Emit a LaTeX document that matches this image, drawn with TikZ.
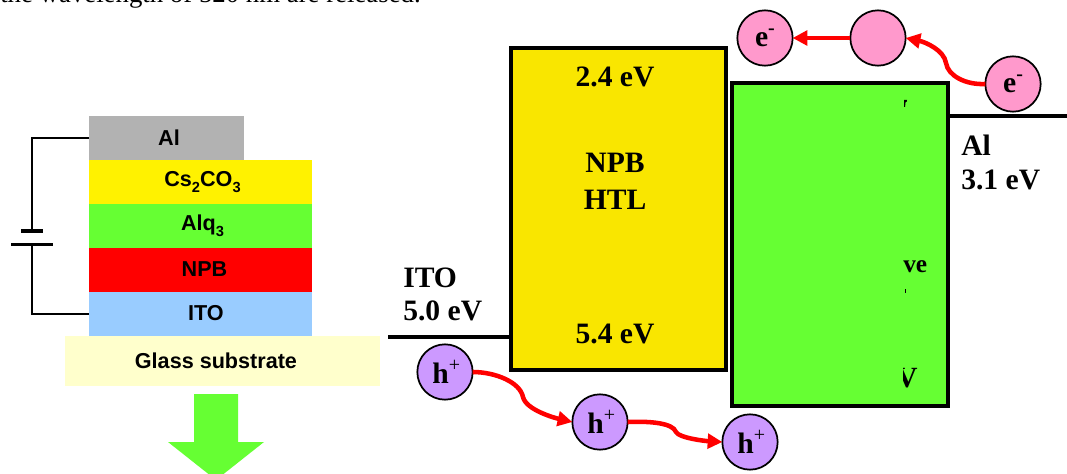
\documentclass[tikz,border=0pt]{standalone}
\usepackage{fontspec}
\setmainfont{Liberation Serif}
\setsansfont{Liberation Sans}
\usetikzlibrary{arrows.meta}
\definecolor{grnbox}{HTML}{66FF33}
\definecolor{ylwbox}{HTML}{F9E600}
\definecolor{pinkc}{HTML}{FF99CC}
\definecolor{purpc}{HTML}{CC99FF}
\definecolor{alc}{HTML}{B2B2B2}
\definecolor{itoc}{HTML}{99CCFF}
\definecolor{glassc}{HTML}{FFFFCC}
\tikzset{
  layer/.style={inner sep=0pt,outer sep=0pt,minimum height=33pt,font=\sffamily\bfseries\fontsize{16.2}{18}\selectfont,text=black},
  band/.style={draw=black,line width=3pt,inner sep=0pt,outer sep=0pt},
  lbl/.style={inner sep=0pt,font=\bfseries\fontsize{22.2}{27.7}\selectfont},
  lblL/.style={lbl,anchor=base west},
  particle/.style={circle,draw=black,line width=1.3pt,minimum size=41.5pt,inner sep=0pt,outer sep=0pt,font=\bfseries\fontsize{22.2}{24}\selectfont},
  elec/.style={particle,fill=pinkc},
  hole/.style={particle,fill=purpc},
  hop/.style={draw=red,line width=3.4pt,-{Triangle[length=11pt,width=11pt]}},
  wire/.style={draw=black,line width=1.4pt},
  level/.style={draw=black,line width=2.4pt}
}
\newcommand{\elabel}{\raisebox{-3.7pt}{e\raisebox{0.42em}{\fontsize{15}{15}\selectfont -}}}
\newcommand{\hlabel}{\hspace{2pt}\raisebox{-2.2pt}{h\raisebox{0.42em}{\mdseries\fontsize{15}{15}\selectfont +}}}
\newcommand{\sbs}[1]{\raisebox{-0.28em}{\fontsize{11}{11}\selectfont #1}}
\begin{document}
\begin{tikzpicture}[x=0.75pt,y=-0.75pt]
\useasboundingbox (0,0) rectangle (1067,474);
\clip (0,0) rectangle (1067,474);
% clipped sentence at the top
\node[anchor=base east,inner sep=0pt,font=\fontsize{20.1}{22}\selectfont] (cap) at (421,3) {the wavelength of 520 nm are released.};
% device stack
\node[layer,fill=alc,minimum width=116.25pt] (al) at (166.5,138) {\hspace{3.8pt}Al};
\node[layer,fill=yellow,minimum width=167.25pt] (cs) at (200.5,182) {\hspace{3pt}\raisebox{0.8pt}{Cs\sbs{2}CO\sbs{3}}};
\node[layer,fill=grnbox,minimum width=167.25pt] (alq) at (200.5,226) {\hspace{3pt}\raisebox{1.2pt}{Alq\sbs{3}}};
\node[layer,fill=red,minimum width=167.25pt] (npb) at (200.5,270) {\hspace{6pt}\raisebox{1.5pt}{NPB}};
\node[layer,fill=itoc,minimum width=167.25pt] (ito) at (200.5,314) {\hspace{8pt}\raisebox{1.5pt}{ITO}};
\node[layer,fill=glassc,minimum width=236.25pt,minimum height=37.5pt] (glass) at (222.5,361) {\hspace{-9.8pt}Glass substrate};
\fill[grnbox] (194,394) -- (238,394) -- (238,442) -- (264,442) -- (216,480) -- (168,442) -- (194,442) -- cycle;
% battery
\coordinate (pa) at (32,231);
\coordinate (pb) at (32,244.5);
\draw[wire] (al.west) -| (pa);
\draw[wire] (ito.west) -| (pb);
\draw[draw=black,line width=3pt] (21,231) -- (43,231);
\draw[draw=black,line width=2.4pt] (11,244.5) -- (53,244.5);
% energy levels
\node[band,fill=ylwbox,minimum width=161.25pt,minimum height=241.1pt] (htl) at (618.5,209.2) {};
\node[band,fill=grnbox,minimum width=162.4pt,minimum height=242.25pt] (eml) at (840,244.5) {};
\draw[level] (388,337) -- (htl.west |- 0,337);
\draw[level] (eml.east |- 0,116) -- (1067,116);
\node[lbl] (homo) at (615,77) {2.4 eV};
\node[lbl,align=center] (name) at (615,181) {NPB\\HTL};
\node[lbl] (lumo) at (615,334) {5.4 eV};
\node[lblL] (itol) at (403,287) {ITO};
\node[lblL] (itov) at (403,320) {5.0 eV};
\node[lblL] (all) at (961,156) {Al};
\node[lblL] (alv) at (961,190) {3.1 eV};
% fragments left on the emissive layer
\node[anchor=base west,inner sep=0pt,font=\bfseries\fontsize{19}{22}\selectfont] (frag) at (903,272) {ve};
\fill[black] (904,100) -- (907,100) -- (906.6,102) -- (905.6,102) -- (905,107) -- (904,107) -- cycle;
\fill[black] (904.5,289) rectangle (905.5,293);
\begin{scope}
\clip (903.5,360) rectangle (925,395);
\node[anchor=base west,inner sep=0pt,font=\bfseries\fontsize{22}{24}\selectfont] (fragv) at (896,387) {V};
\end{scope}
% particles
\node[elec] (e1) at (765,38) {\elabel};
\node[elec] (e2) at (878,38) {};
\node[elec] (e3) at (1013,84) {\elabel};
\node[hole] (h1) at (445,372) {\hlabel};
\node[hole] (h2) at (600,422) {\hlabel};
\node[hole] (h3) at (750,442) {\hlabel};
% hops
\draw[hop] (e2.west) -- (e1.east);
\draw[hop] (e3.west) .. controls (966,85) and (948,76) .. (946,63) .. controls (944,50) and (925,42) .. (e2.east);
\draw[hop] (h1.east) .. controls (495,372) and (520,382) .. (523,397) .. controls (526,410) and (555,418) .. (h2.west);
\draw[hop] (h2.east) .. controls (650,421) and (673,423) .. (676,432) .. controls (679,438) and (705,441) .. (h3.west);
\end{tikzpicture}
\end{document}
